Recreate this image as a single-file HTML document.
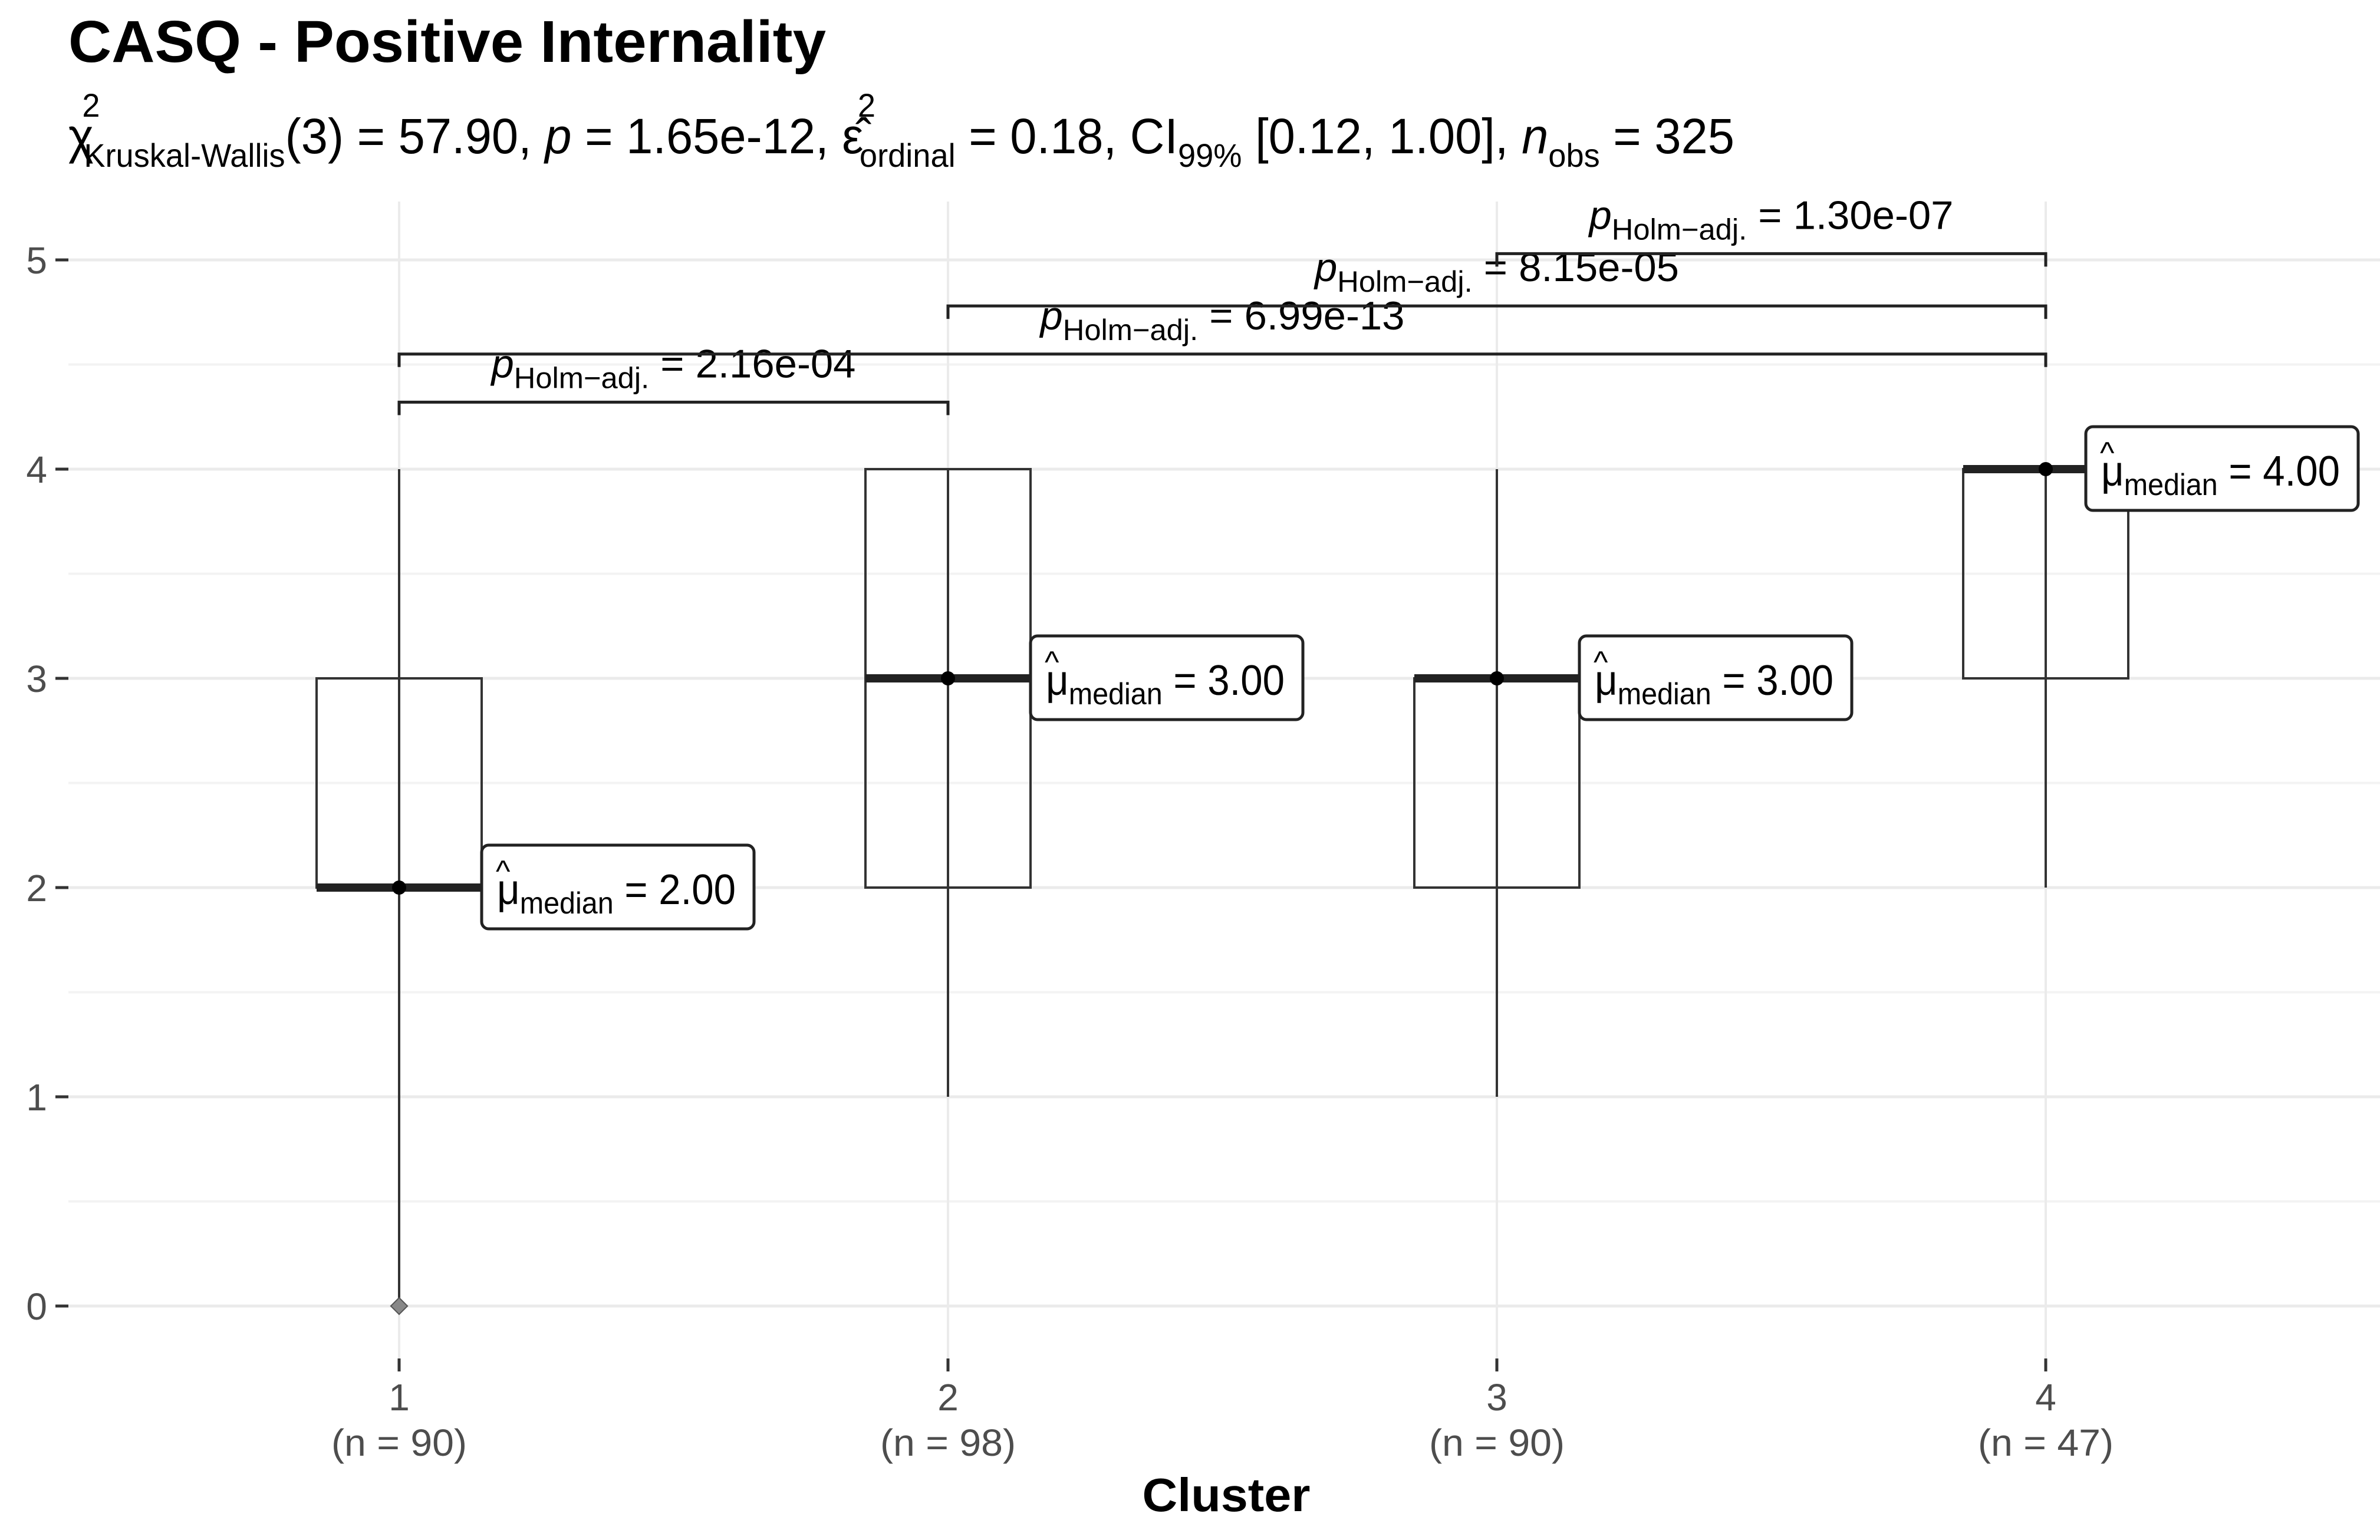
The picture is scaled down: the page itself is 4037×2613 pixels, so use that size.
<!DOCTYPE html>
<html><head><meta charset="utf-8"><style>html,body{margin:0;padding:0;background:#fff}svg{display:block}</style></head>
<body>
<svg id="chart" width="4037" height="2613" viewBox="0 0 4037 2613" xmlns="http://www.w3.org/2000/svg" font-family="Liberation Sans, Arial, sans-serif">
<text x="116" y="105" font-size="100" font-weight="bold" fill="#000" textLength="1285" lengthAdjust="spacingAndGlyphs">CASQ - Positive Internality</text>
<text x="116" y="260" font-size="84" fill="#000" textLength="2826" lengthAdjust="spacingAndGlyphs">χ<tspan font-size="56" dy="-62" dx="-20">2</tspan><tspan font-size="56" dy="85" dx="-28">Kruskal-Wallis</tspan><tspan dy="-23">(3) = 57.90, </tspan><tspan font-style="italic">p</tspan><tspan> = 1.65e-12, ε̂</tspan><tspan font-size="56" dy="-62" dx="-10">2</tspan><tspan font-size="56" dy="85" dx="-28">ordinal</tspan><tspan dy="-23"> = 0.18, CI</tspan><tspan font-size="56" dy="23">99%</tspan><tspan dy="-23"> [0.12, 1.00], </tspan><tspan font-style="italic">n</tspan><tspan font-size="56" dy="23">obs</tspan><tspan dy="-23"> = 325</tspan></text>
<g id="plot"></g>
</svg>
<script>
const categories = ["1","2","3","4"];
const nLabels = ["(n = 90)","(n = 98)","(n = 90)","(n = 47)"];
const q1 = [2,2,2,3];
const medians = [2,3,3,4];
const q3 = [3,4,3,4];
const whiskLow = [0,1,1,2];
const whiskHigh = [4,4,4,4];
const outliers = [[0,0]];
const medianLabels = ["2.00","3.00","3.00","4.00"];
const yTicks = [0,1,2,3,4,5];
const pairFrom = [1,1,2,3];
const pairTo = [2,4,4,4];
const pairY = [4.32,4.55,4.78,5.03];
const pairP = ["2.16e-04","6.99e-13","8.15e-05","1.30e-07"];

const NS = "http://www.w3.org/2000/svg";
const g = document.getElementById("plot");
const X = c => 677 + (c - 1) * 931;
const Y = v => 2216 - v * 355;
function mk(tag, attrs, parent) {
  const e = document.createElementNS(NS, tag);
  for (const k in attrs) e.setAttribute(k, attrs[k]);
  (parent || g).appendChild(e);
  return e;
}
for (let v = -0.5; v <= 5.0; v += 0.5) {
  if (v < -0.2) continue;
  const major = Number.isInteger(v);
  const l = mk("line", {x1: 116, x2: 4037, y1: Y(v), y2: Y(v), stroke: major ? "#ebebeb" : "#f3f3f3", "stroke-width": major ? 5 : 4});
  
  
}
categories.forEach((c, i) => {
  const l = mk("line", {x1: X(i + 1), x2: X(i + 1), y1: 342, y2: 2305, stroke: "#ebebeb", "stroke-width": 4});
  
  
});
yTicks.forEach(t => {
  const tk = mk("line", {x1: 94, x2: 116, y1: Y(t), y2: Y(t), stroke: "#333", "stroke-width": 5});
  
  
  const tx = mk("text", {x: 80, y: Y(t) + 23, "font-size": 64, fill: "#4d4d4d", "text-anchor": "end"});
  tx.textContent = t;
  
  
});
categories.forEach((c, i) => {
  const x = X(i + 1);
  const tk = mk("line", {x1: x, x2: x, y1: 2305, y2: 2327, stroke: "#333", "stroke-width": 5});
  
  
  const t1 = mk("text", {x: x, y: 2393, "font-size": 64, fill: "#4d4d4d", "text-anchor": "middle"});
  t1.textContent = c;
  
  
  const t2 = mk("text", {x: x, y: 2470, "font-size": 64, fill: "#4d4d4d", "text-anchor": "middle", textLength: 230, lengthAdjust: "spacingAndGlyphs"});
  t2.textContent = nLabels[i];
  
  
});
const xt = mk("text", {x: 2080, y: 2564, "font-size": 80, "font-weight": "bold", fill: "#000", "text-anchor": "middle", textLength: 285, lengthAdjust: "spacingAndGlyphs"});
xt.textContent = "Cluster";


const hw = 140;
categories.forEach((c, i) => {
  const x = X(i + 1);
  const w = mk("line", {x1: x, x2: x, y1: Y(whiskHigh[i]), y2: Y(whiskLow[i]), stroke: "#333", "stroke-width": 4});
  
  
  const b = mk("rect", {x: x - hw, y: Y(q3[i]), width: 2 * hw, height: Math.max(Y(q1[i]) - Y(q3[i]), 0), fill: "none", stroke: "#333", "stroke-width": 4});
  
  
  const m = mk("line", {x1: x - hw, x2: x + hw, y1: Y(medians[i]), y2: Y(medians[i]), stroke: "#222", "stroke-width": 14});
  
  
  const p = mk("circle", {cx: x, cy: Y(medians[i]), r: 12, fill: "#000"});
  
  
  const lx = Math.min(x + hw, 3538), ly = Y(medians[i]) - 72;
  const lg = mk("g", {});
  
  
  mk("rect", {x: lx, y: ly, width: 462, height: 142, rx: 12, fill: "#fff", stroke: "#222", "stroke-width": 5}, lg);
  const tt = mk("text", {x: lx + 26, y: ly + 100, "font-size": 72, fill: "#000", textLength: 405, lengthAdjust: "spacingAndGlyphs"}, lg);
  tt.innerHTML = '<tspan>μ</tspan><tspan font-size="52" dy="16">median</tspan><tspan dy="-16"> = ' + medianLabels[i] + '</tspan>';
  const hat = mk("text", {x: lx + 24, y: ly + 62, "font-size": 52, fill: "#000"}, lg);
  hat.textContent = "^";
});
outliers.forEach(o => {
  const d = mk("rect", {x: X(o[0] + 1) - 10, y: Y(o[1]) - 10, width: 20, height: 20, fill: "#888", stroke: "#555", "stroke-width": 2, transform: "rotate(45 " + X(o[0] + 1) + " " + Y(o[1]) + ")"});
  
  
});
pairFrom.forEach((f, i) => {
  const x1 = X(f), x2 = X(pairTo[i]), y = Y(pairY[i]);
  const br = mk("path", {d: `M${x1},${y + 22} V${y} H${x2} V${y + 22}`, fill: "none", stroke: "#222", "stroke-width": 5});
  
  
  const t = mk("text", {x: (x1 + x2) / 2, y: y - 42, "font-size": 68, fill: "#000", "text-anchor": "middle", textLength: 618, lengthAdjust: "spacingAndGlyphs"});
  t.innerHTML = '<tspan font-style="italic">p</tspan><tspan font-size="50" dy="18">Holm−adj.</tspan><tspan dy="-18"> = ' + pairP[i] + '</tspan>';
  
  
});
</script>
</body></html>
